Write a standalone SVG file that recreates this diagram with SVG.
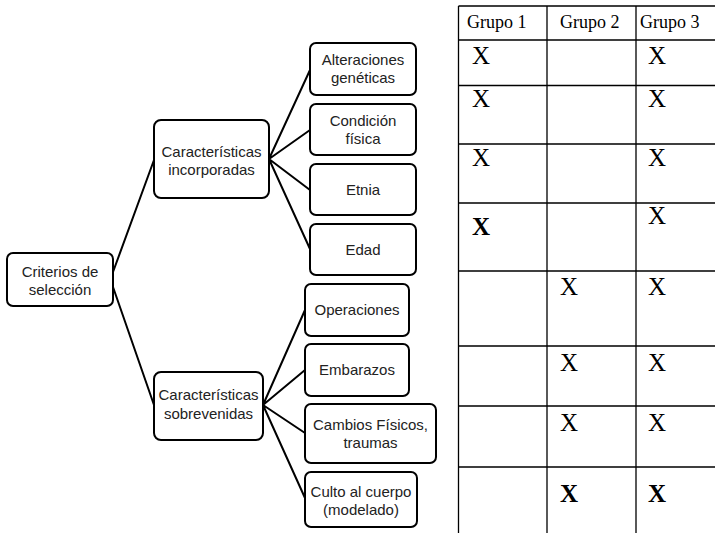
<svg xmlns="http://www.w3.org/2000/svg" width="715" height="533" viewBox="0 0 715 533">
<style>
.box{fill:#fff;stroke:#000;stroke-width:2}
.lbl{font-family:"Liberation Sans",Arial,sans-serif;font-size:15px;fill:#222;text-anchor:middle}
.con{stroke:#000;stroke-width:2;fill:none}
.grid{stroke:#000;stroke-width:1.3;fill:none}
.hdr{font-family:"Liberation Serif","Times New Roman",serif;font-size:18px;fill:#000}
.x{font-family:"Liberation Serif","Times New Roman",serif;font-size:25px;fill:#000}
.xb{font-family:"Liberation Serif","Times New Roman",serif;font-size:25px;font-weight:bold;fill:#000}
</style>
<rect width="715" height="533" fill="#fff"/>
<g id="connectors">
<path class="con" d="M113,272 L154,160 M113,287 L154,405"/>
<path class="con" d="M269,159 L310,70 M269,159 L310,130 M269,159 L310,190 M269,159 L310,249"/>
<path class="con" d="M263,405 L305,310 M263,405 L305,370 M263,405 L305,433 M263,405 L305,498"/>
</g>
<g id="criterios"><rect class="box" x="7" y="253" width="106" height="53" rx="6"/><text class="lbl" x="60" y="277">Criterios de</text><text class="lbl" x="60" y="295">selección</text></g>
<g id="incorporadas"><rect class="box" x="154" y="120" width="115" height="78" rx="7"/><text class="lbl" x="211.5" y="157">Características</text><text class="lbl" x="211.5" y="175">incorporadas</text></g>
<g id="sobrevenidas"><rect class="box" x="154" y="372" width="109" height="68" rx="7"/><text class="lbl" x="208.5" y="400">Características</text><text class="lbl" x="208.5" y="419">sobrevenidas</text></g>
<g id="alteraciones"><rect class="box" x="310" y="43" width="106" height="52" rx="6"/><text class="lbl" x="363" y="65">Alteraciones</text><text class="lbl" x="363" y="83">genéticas</text></g>
<g id="condicion"><rect class="box" x="310" y="104" width="106" height="51" rx="6"/><text class="lbl" x="363" y="126">Condición</text><text class="lbl" x="363" y="144">física</text></g>
<g id="etnia"><rect class="box" x="310" y="164" width="106" height="51" rx="6"/><text class="lbl" x="363" y="195">Etnia</text></g>
<g id="edad"><rect class="box" x="310" y="224" width="106" height="51" rx="6"/><text class="lbl" x="363" y="255">Edad</text></g>
<g id="operaciones"><rect class="box" x="305" y="284" width="104" height="52" rx="6"/><text class="lbl" x="357" y="315">Operaciones</text></g>
<g id="embarazos"><rect class="box" x="305" y="344" width="104" height="52" rx="6"/><text class="lbl" x="357" y="375">Embarazos</text></g>
<g id="cambios"><rect class="box" x="305" y="404" width="131" height="59" rx="6"/><text class="lbl" x="370.5" y="430">Cambios Físicos,</text><text class="lbl" x="370.5" y="448">traumas</text></g>
<g id="culto"><rect class="box" x="305" y="472" width="112" height="55" rx="6"/><text class="lbl" x="361" y="497">Culto al cuerpo</text><text class="lbl" x="361" y="515">(modelado)</text></g>
<g id="tabla">
<path class="grid" d="M458.5,6 V533 M547,6 V533 M636,6 V533 M458.5,6 H715 M458.5,40 H715 M458.5,85.5 H715 M458.5,144 H715 M458.5,203 H715 M458.5,271 H715 M458.5,346 H715 M458.5,406 H715 M458.5,467 H715"/>
<text class="hdr" x="467" y="28">Grupo 1</text>
<text class="hdr" x="560" y="28">Grupo 2</text>
<text class="hdr" x="640" y="28">Grupo 3</text>
<text class="x" x="472" y="64">X</text><text class="x" x="648" y="64">X</text>
<text class="x" x="472" y="107">X</text><text class="x" x="648" y="107">X</text>
<text class="x" x="472" y="166">X</text><text class="x" x="648" y="166">X</text>
<text class="xb" x="472" y="235">X</text><text class="x" x="648" y="224">X</text>
<text class="x" x="560" y="295">X</text><text class="x" x="648" y="295">X</text>
<text class="x" x="560" y="371">X</text><text class="x" x="648" y="371">X</text>
<text class="x" x="560" y="431">X</text><text class="x" x="648" y="431">X</text>
<text class="xb" x="560" y="502">X</text><text class="xb" x="648" y="502">X</text>
</g>
</svg>
